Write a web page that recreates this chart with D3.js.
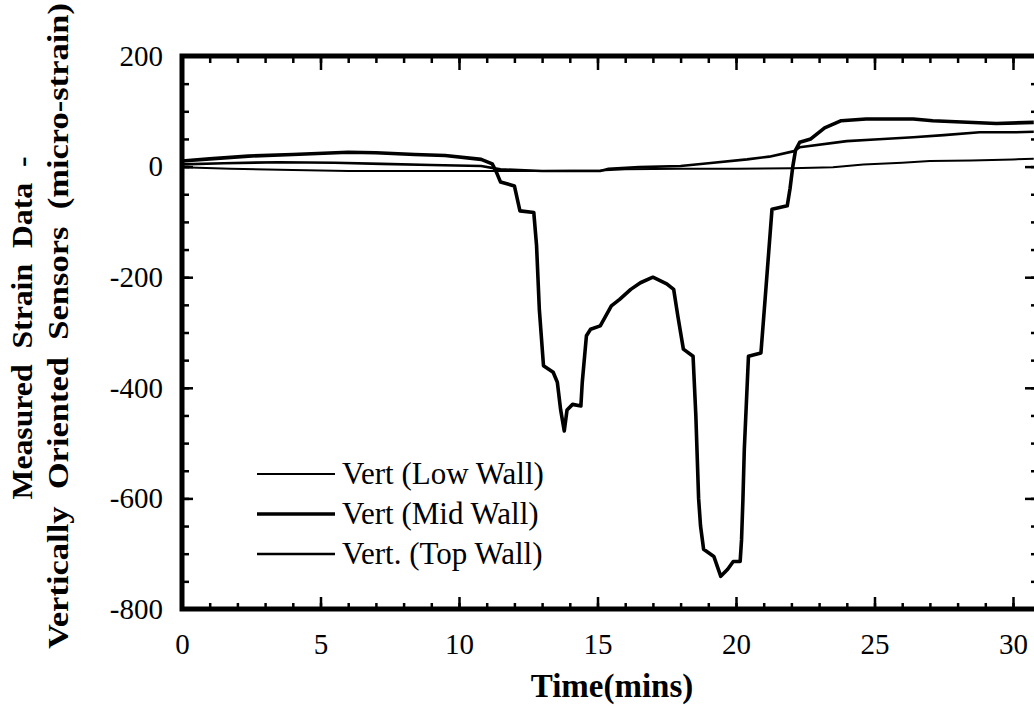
<!DOCTYPE html>
<html>
<head>
<meta charset="utf-8">
<script src="https://cdn.jsdelivr.net/npm/d3@7"></script>
<style>
  html, body { margin: 0; padding: 0; background: #fff; }
  svg { display: block; }
  text { font-family: "Liberation Serif", "Times New Roman", serif; fill: #000; }
</style>
</head>
<body>
<svg id="chart" width="1034" height="708"></svg>
<script>
// ---------------- data ----------------
const xTickLabels = [0, 5, 10, 15, 20, 25, 30];
const yTickLabels = [200, 0, -200, -400, -600, -800];

const seriesNames = ["Vert (Low Wall)", "Vert (Mid Wall)", "Vert. (Top Wall)"];

// Vert (Mid Wall) — thick line with the two deep dips
const midTime = [0, 1, 2.4, 4, 6, 7, 8.4, 9.5, 10.8, 11.2, 11.35, 11.5, 12.0, 12.2, 12.7, 12.8, 12.9, 13.05,
  13.4, 13.55, 13.67, 13.8, 13.9, 14.1, 14.4, 14.45, 14.6, 14.75, 15.1, 15.5, 15.8, 16.2, 16.55, 17.0,
  17.5, 17.75, 17.9, 18.1, 18.45, 18.55, 18.65, 18.72, 18.83, 19.2, 19.45, 19.7, 19.9, 20.15, 20.2,
  20.25, 20.3, 20.45, 20.9, 21.05, 21.3, 21.85, 21.95, 22.05, 22.15, 22.3, 22.7, 23.2, 23.8, 24.7,
  26.4, 27.1, 29.4, 30.75];
const midValue = [10, 14, 19, 22, 26, 25, 22, 20, 13, 5, -10, -28, -35, -80, -83, -143, -258, -360,
  -372, -390, -440, -478, -440, -430, -433, -390, -306, -294, -288, -252, -240, -222, -210, -200,
  -212, -222, -270, -330, -343, -450, -600, -650, -692, -705, -741, -728, -714, -714, -675,
  -602, -511, -343, -337, -240, -77, -71, -40, 0, 30, 44, 50, 70, 83, 86,
  86, 83, 78, 80];

// Vert. (Top Wall) — medium line ending near 60
const topTime = [0, 1.5, 3.5, 5.5, 7.2, 9, 10.8, 11.5, 13, 15.1, 15.4, 16.5, 18, 19, 20.4, 21.2, 22.1,
  22.3, 24, 25, 26.4, 27.5, 28.8, 30, 30.75];
const topValue = [4, 6, 8, 7, 5, 3, 1, -5, -8, -8, -4, -1, 1, 6, 13, 18, 28,
  35, 46, 49, 53, 57, 62, 62, 63];

// Vert (Low Wall) — thin line staying near zero
const lowTime = [0, 1.75, 4, 6, 8, 10.8, 13, 15.1, 16, 18, 20, 22, 23.5, 24.6, 26, 27, 28.5, 30, 30.75];
const lowValue = [-1, -4, -6, -8, -8, -8, -8, -7, -5, -4, -4, -3, -1, 4, 7, 10, 11, 13, 14];

// ---------------- chart ----------------
const svg = d3.select("#chart");
const mLeft = 182, mRight = 1038, mTop = 56, mBottom = 609;

const x = d3.scaleLinear().domain([0, (mRight - mLeft) / 27.7]).range([mLeft, mRight]);
const y = d3.scaleLinear().domain([-800, 200]).range([mBottom, mTop]);

// clip
svg.append("clipPath").attr("id", "plotclip")
  .append("rect").attr("x", mLeft).attr("y", mTop).attr("width", mRight - mLeft).attr("height", mBottom - mTop);

// series
const series = [
  { name: seriesNames[0], t: lowTime, v: lowValue, w: 2 },
  { name: seriesNames[1], t: midTime, v: midValue, w: 3.6 },
  { name: seriesNames[2], t: topTime, v: topValue, w: 2.6 }
];
const line = d3.line().x(d => x(d[0])).y(d => y(d[1]));
const g = svg.append("g").attr("clip-path", "url(#plotclip)");
series.forEach(s => {
  g.append("path")
    .datum(s.t.map((t, i) => [t, s.v[i]]))
    .attr("d", line)
    .attr("fill", "none")
    .attr("stroke", "#000")
    .attr("stroke-width", s.w)
    .attr("stroke-linejoin", "round");
});

// axes helpers
const xMinor = d3.range(0, 31, 1);
const yMinor = d3.range(-800, 201, 50);
const fs = 29;
const plainFmt = d => String(d);

function styleAxis(sel) {
  sel.select(".domain").remove();
  sel.selectAll(".tick line").attr("stroke", "#000").attr("stroke-width", 2.5);
  sel.selectAll("text").style("font-size", fs + "px").style("font-family", '"Liberation Serif", serif');
}

// bottom axis
svg.append("g").attr("transform", `translate(0,${mBottom})`)
  .call(d3.axisBottom(x).tickValues(xMinor).tickFormat("").tickSizeInner(-6).tickSizeOuter(0))
  .call(styleAxis);
svg.append("g").attr("transform", `translate(0,${mBottom})`)
  .call(d3.axisBottom(x).tickValues(xTickLabels).tickFormat(plainFmt).tickSizeInner(-12).tickSizeOuter(0).tickPadding(24))
  .call(styleAxis);

// top axis
svg.append("g").attr("transform", `translate(0,${mTop})`)
  .call(d3.axisTop(x).tickValues(xMinor).tickFormat("").tickSizeInner(-7).tickSizeOuter(0))
  .call(styleAxis);
svg.append("g").attr("transform", `translate(0,${mTop})`)
  .call(d3.axisTop(x).tickValues(xTickLabels).tickFormat("").tickSizeInner(-14).tickSizeOuter(0))
  .call(styleAxis);

// left axis
svg.append("g").attr("transform", `translate(${mLeft},0)`)
  .call(d3.axisLeft(y).tickValues(yMinor).tickFormat("").tickSizeInner(-7).tickSizeOuter(0))
  .call(styleAxis);
svg.append("g").attr("transform", `translate(${mLeft},0)`)
  .call(d3.axisLeft(y).tickValues(yTickLabels).tickFormat(plainFmt).tickSizeInner(-11).tickSizeOuter(0).tickPadding(19))
  .call(styleAxis);

// right axis
svg.append("g").attr("transform", `translate(${mRight},0)`)
  .call(d3.axisRight(y).tickValues(yMinor).tickFormat("").tickSizeInner(-7).tickSizeOuter(0))
  .call(styleAxis);
svg.append("g").attr("transform", `translate(${mRight},0)`)
  .call(d3.axisRight(y).tickValues(yTickLabels).tickFormat("").tickSizeInner(-13).tickSizeOuter(0))
  .call(styleAxis);

// frame
svg.append("rect")
  .attr("x", mLeft).attr("y", mTop).attr("width", mRight - mLeft).attr("height", mBottom - mTop)
  .attr("fill", "none").attr("stroke", "#000").attr("stroke-width", 5);

// x title
svg.append("text")
  .attr("x", 612).attr("y", 697)
  .attr("text-anchor", "middle")
  .style("font-size", "33px").style("font-weight", "bold")
  .text("Time(mins)");

// y title (two lines)
svg.append("text")
  .attr("transform", "translate(32,328) rotate(-90)")
  .attr("text-anchor", "middle")
  .attr("textLength", 343).attr("lengthAdjust", "spacingAndGlyphs")
  .style("font-size", "30px").style("font-weight", "bold")
  .style("white-space", "pre")
  .text("Measured  Strain  Data  -");
svg.append("text")
  .attr("transform", "translate(68,326) rotate(-90)")
  .attr("text-anchor", "middle")
  .attr("textLength", 646).attr("lengthAdjust", "spacingAndGlyphs")
  .style("font-size", "30px").style("font-weight", "bold")
  .style("white-space", "pre")
  .text("Vertically  Oriented  Sensors  (micro-strain)");

// legend
const legendY = [474, 514, 554];
series.forEach((s, i) => {
  svg.append("line")
    .attr("x1", 257).attr("x2", 335)
    .attr("y1", legendY[i]).attr("y2", legendY[i])
    .attr("stroke", "#000").attr("stroke-width", s.w);
  svg.append("text")
    .attr("x", 342).attr("y", legendY[i] + 10)
    .style("font-size", "31px")
    .text(s.name);
});
</script>
</body>
</html>
